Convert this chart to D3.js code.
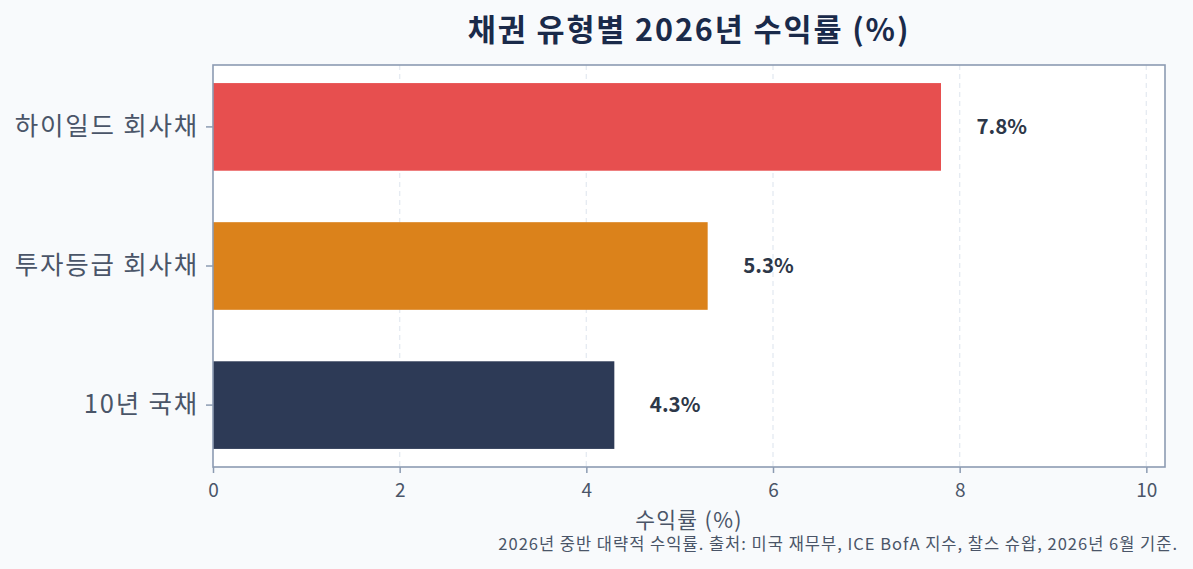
<!DOCTYPE html>
<html>
<head>
<meta charset="utf-8">
<script src="https://cdn.jsdelivr.net/npm/d3@7"></script>
<style>
  body { margin: 0; background: #f8fafc; }
  text { font-family: "Noto Sans CJK KR", "Noto Sans", sans-serif; }
</style>
</head>
<body>
<script>
// chart data
var categories = ["하이일드 회사채", "투자등급 회사채", "10년 국채"];
var yields = [7.8, 5.3, 4.3];
var barColors = ["#e74f4f", "#db821b", "#2d3a56"];
var xTicks = [0, 2, 4, 6, 8, 10];

var width = 1193, height = 569;
var margin = {top: 65, right: 28, bottom: 102, left: 213};

var svg = d3.select("body").append("svg")
    .attr("width", width)
    .attr("height", height);

svg.append("rect")
    .attr("width", width)
    .attr("height", height)
    .attr("fill", "#f8fafc");

var x = d3.scaleLinear()
    .domain([0, 10.2])
    .range([margin.left, width - margin.right]);

var y = d3.scaleBand()
    .domain(categories)
    .range([margin.top, height - margin.bottom])
    .paddingInner(0.37)
    .paddingOuter(0.13);

// plot background
svg.append("rect")
    .attr("x", margin.left)
    .attr("y", margin.top)
    .attr("width", width - margin.left - margin.right)
    .attr("height", height - margin.top - margin.bottom)
    .attr("fill", "#ffffff");

// dashed gridlines
svg.append("g")
    .selectAll("line")
    .data(xTicks.slice(1))
    .join("line")
    .attr("x1", d => x(d))
    .attr("x2", d => x(d))
    .attr("y1", margin.top)
    .attr("y2", height - margin.bottom)
    .attr("stroke", "#e6ebf2")
    .attr("stroke-width", 1.4)
    .attr("stroke-dasharray", "5,4");

// bars
svg.append("g")
    .selectAll("rect")
    .data(categories)
    .join("rect")
    .attr("x", x(0))
    .attr("y", d => y(d))
    .attr("width", (d, i) => x(yields[i]) - x(0))
    .attr("height", y.bandwidth())
    .attr("fill", (d, i) => barColors[i]);

// value labels
svg.append("g")
    .selectAll("text")
    .data(categories)
    .join("text")
    .attr("x", (d, i) => x(yields[i] + 0.38))
    .attr("y", d => y(d) + y.bandwidth() / 2)
    .attr("dy", "0.35em")
    .attr("font-size", 20.5)
    .attr("font-weight", "bold")
    .attr("fill", "#2d3748")
    .text((d, i) => yields[i].toFixed(1) + "%");

// axes
var xAxis = svg.append("g")
    .attr("transform", "translate(0," + (height - margin.bottom) + ")")
    .call(d3.axisBottom(x).tickValues(xTicks).tickFormat(d3.format("d")).tickSize(6).tickSizeOuter(0));

var yAxis = svg.append("g")
    .attr("transform", "translate(" + margin.left + ",0)")
    .call(d3.axisLeft(y).tickSize(7).tickSizeOuter(0).tickPadding(7));

[xAxis, yAxis].forEach(function(g) {
  g.select(".domain").remove();
  g.selectAll(".tick line").attr("stroke", "#8c9bb2").attr("stroke-width", 1.5);
  g.selectAll(".tick text").attr("fill", "#4a5568");
});
xAxis.selectAll(".tick text").attr("font-size", 19).attr("dy", "1.1em");
yAxis.selectAll(".tick text").attr("font-size", 25.5).attr("letter-spacing", 1.8);

// frame
svg.append("rect")
    .attr("x", margin.left)
    .attr("y", margin.top)
    .attr("width", width - margin.left - margin.right)
    .attr("height", height - margin.top - margin.bottom)
    .attr("fill", "none")
    .attr("stroke", "#8c9bb2")
    .attr("stroke-width", 1.6);

// title
svg.append("text")
    .attr("x", (margin.left + width - margin.right) / 2)
    .attr("y", 41)
    .attr("text-anchor", "middle")
    .attr("font-size", 30.5)
    .attr("font-weight", "bold")
    .attr("letter-spacing", 1.9)
    .attr("fill", "#1a2a4a")
    .text("채권 유형별 2026년 수익률 (%)");

// x axis label
svg.append("text")
    .attr("x", (margin.left + width - margin.right) / 2)
    .attr("y", 528)
    .attr("text-anchor", "middle")
    .attr("font-size", 21.5)
    .attr("letter-spacing", 1.3)
    .attr("fill", "#4a5568")
    .text("수익률 (%)");

// footnote
svg.append("text")
    .attr("x", 1178)
    .attr("y", 550)
    .attr("text-anchor", "end")
    .attr("font-size", 16.5)
    .attr("letter-spacing", 1.0)
    .attr("fill", "#4a5568")
    .text("2026년 중반 대략적 수익률. 출처: 미국 재무부, ICE BofA 지수, 찰스 슈왑, 2026년 6월 기준.");
</script>
</body>
</html>
